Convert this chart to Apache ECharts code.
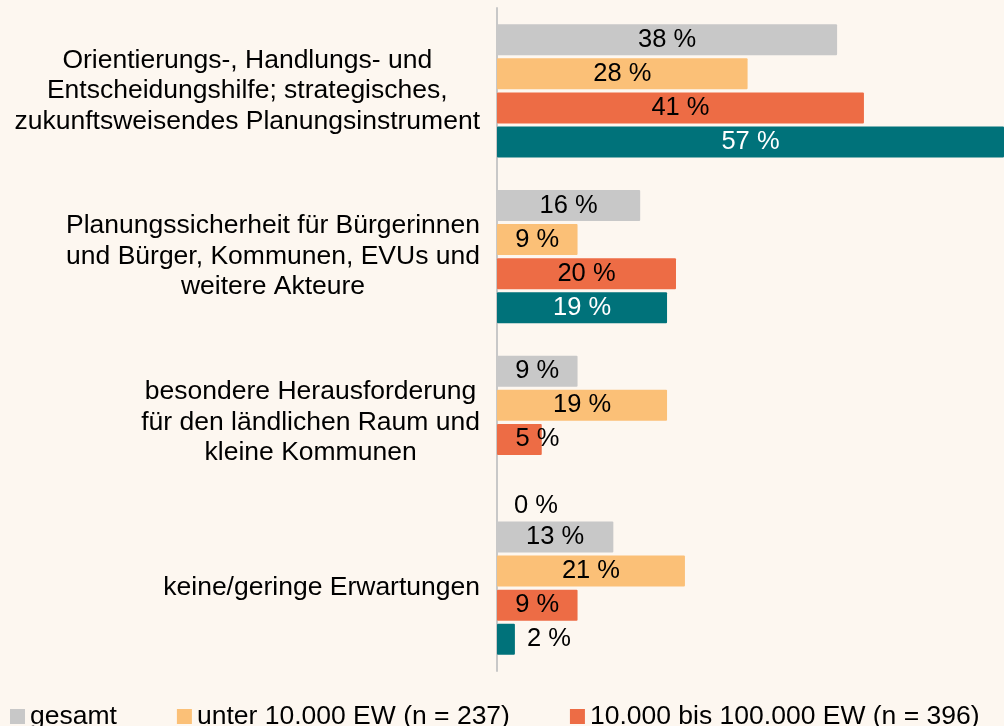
<!DOCTYPE html>
<html>
<head>
<meta charset="utf-8">
<script src="https://cdn.jsdelivr.net/npm/echarts@6/dist/echarts.min.js"></script>
<style>
  html, body { margin: 0; padding: 0; background: #fdf7f0; }
  #chart { width: 1004px; height: 726px; }
</style>
</head>
<body>
<div id="chart"></div>
<script>
// data
var categories = [
  'Orientierungs-, Handlungs- und\nEntscheidungshilfe; strategisches,\nzukunftsweisendes Planungsinstrument',
  'Planungssicherheit für Bürgerinnen\nund Bürger, Kommunen, EVUs und\nweitere Akteure',
  'besondere Herausforderung\nfür den ländlichen Raum und\nkleine Kommunen',
  'keine/geringe Erwartungen'
];
var seriesNames = ['gesamt', 'unter 10.000 EW (n = 237)', '10.000 bis 100.000 EW (n = 396)', 'über 100.000 EW'];
var gesamt = [38, 16, 9, 13];
var unter10k = [28, 9, 19, 21];
var mittel = [41, 20, 5, 9];
var ueber100k = [57, 19, 0, 2];
var colors = ['#c8c8c8', '#fbc077', '#ed6c45', '#00727a'];

var font = 'Liberation Sans, Arial, sans-serif';

// label tweaks for the small bars
function makeData(values, fixes) {
  return values.map(function (v, i) {
    var item = { value: v };
    if (fixes && fixes[i]) item.label = fixes[i];
    return item;
  });
}

function barSeries(idx, values, fixes, labelColor) {
  return {
    name: seriesNames[idx],
    type: 'bar',
    barWidth: 31,
    barGap: '10%',
    clip: true,
    itemStyle: { color: colors[idx], borderRadius: 1 },
    label: {
      show: true,
      position: 'inside',
      formatter: '{c} %',
      color: labelColor || '#000',
      fontFamily: font,
      fontSize: 25.5
    },
    data: makeData(values, fixes)
  };
}

var chart = echarts.init(document.getElementById('chart'));
chart.setOption({
  backgroundColor: '#fdf7f0',
  animation: false,
  grid: { left: 497, right: 0, top: 8, bottom: 55 },
  legend: {
    left: 5,
    top: 698,
    width: 3000,
    icon: 'rect',
    itemWidth: 15,
    itemHeight: 15,
    itemGap: 60,
    textStyle: { fontFamily: font, fontSize: 26.5, color: '#000' },
    data: seriesNames
  },
  xAxis: {
    type: 'value',
    min: 0,
    max: 56.65,
    show: false,
    splitLine: { show: false }
  },
  yAxis: {
    type: 'category',
    inverse: true,
    data: categories,
    axisTick: { show: false },
    axisLine: { show: true, lineStyle: { color: '#c8c8c8', width: 2 } },
    axisLabel: {
      margin: 17,
      formatter: function (v) {
        return v.split('\n').map(function (l) { return '{c|' + l + '}'; }).join('\n');
      },
      rich: {
        c: { align: 'center', fontFamily: font, fontSize: 26.5, lineHeight: 30.5, color: '#000' }
      }
    }
  },
  series: [
    barSeries(0, gesamt),
    barSeries(1, unter10k),
    barSeries(2, mittel, { 2: { position: 'inside', offset: [18, 0] } }),
    barSeries(3, ueber100k, {
      0: { color: '#fff' },
      1: { color: '#fff' },
      2: { position: 'right', offset: [12, 32], color: '#000' },
      3: { position: 'right', distance: 12, color: '#000' }
    }, '#fff')
  ]
});
</script>
</body>
</html>
